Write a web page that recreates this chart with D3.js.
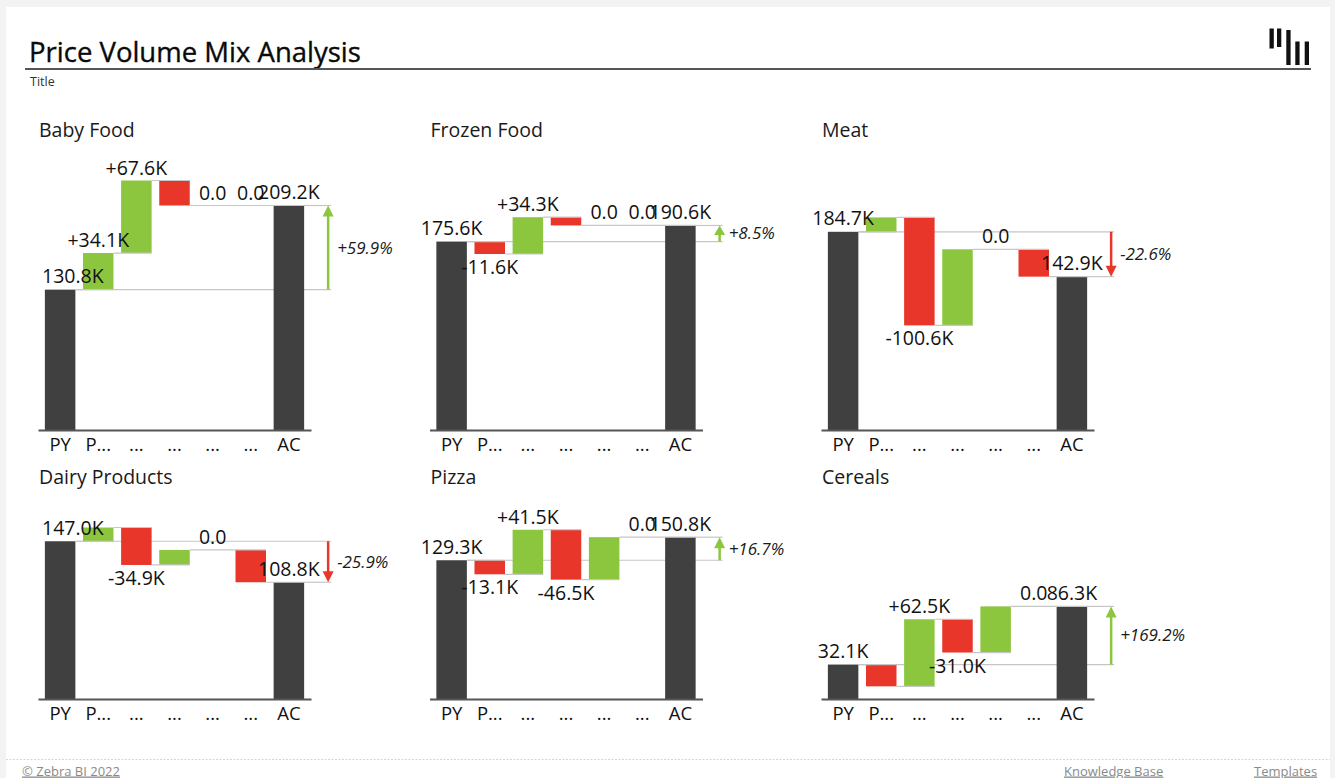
<!DOCTYPE html>
<html><head><meta charset="utf-8">
<script src="https://cdn.jsdelivr.net/npm/d3@7"></script>
<style>
body{margin:0;background:#f3f3f3;font-family:"Open Sans",sans-serif;}
svg{display:block}
</style></head><body>
<svg id="chart" width="1335" height="778"></svg>
<script>
// ---------- data ----------
const chartTitle = "Price Volume Mix Analysis";
const subTitle = "Title";
const categories = ["PY", "P...", "...", "...", "...", "...", "AC"];
const panelNames = ["Baby Food", "Frozen Food", "Meat", "Dairy Products", "Pizza", "Cereals"];
const babyFood      = [130.8,  34.1,   67.6, -23.3,  0.0,   0.0, 209.2];
const frozenFood    = [175.6, -11.6,   34.3,  -7.7,  0.0,   0.0, 190.6];
const meat          = [184.7,  13.4, -100.6,  70.9,  0.0, -25.5, 142.9];
const dairyProducts = [147.0,  12.8,  -34.9,  14.0,  0.0, -30.1, 108.8];
const pizza         = [129.3, -13.1,   41.5, -46.5, 39.6,   0.0, 150.8];
const cereals       = [ 32.1, -20.3,   62.5, -31.0, 43.0,   0.0,  86.3];
const variancePct   = [59.9, 8.5, -22.6, -25.9, 16.7, 169.2];
const labelShown = [
  [1, 1, 1, 0, 1, 1, 1],
  [1, 1, 1, 0, 1, 1, 1],
  [1, 0, 1, 0, 1, 0, 1],
  [1, 0, 1, 0, 1, 0, 1],
  [1, 1, 1, 1, 0, 1, 1],
  [1, 0, 1, 1, 0, 1, 1]
];
const footerLeft = "© Zebra BI 2022";
const footerLinks = ["Knowledge Base", "Templates"];

const seriesList = [babyFood, frozenFood, meat, dairyProducts, pizza, cereals];

// ---------- layout ----------
const colX = [0, 391.5, 783];
const rowBase = [430, 699];
const rowTitle = [136.7, 483.5];
const yMax = 232.5, plotH = 249.5;
const C = {total: "#404040", pos: "#8cc63e", neg: "#e8372a", grid: "#c6c6c6", text: "#111"};

const svg = d3.select("#chart");

// card
svg.append("rect").attr("x", 6).attr("y", 7).attr("width", 1324).attr("height", 771)
  .attr("fill", "#fff");

// header
svg.append("text").attr("x", 29).attr("y", 61.5).attr("font-size", 27.5).attr("fill", "#0a0a0a")
  .attr("stroke", "#0a0a0a").attr("stroke-width", 0.35)
  .text(chartTitle);
svg.append("line").attr("x1", 25).attr("x2", 1311).attr("y1", 69).attr("y2", 69)
  .attr("stroke", "#555").attr("stroke-width", 2);
svg.append("text").attr("x", 30).attr("y", 85.5).attr("font-size", 12.5).attr("fill", "#333")
  .text(subTitle);

// logo
const logo = [[1269.5, 28.5, 48.5], [1277, 28.5, 47], [1286.3, 30, 65], [1295.3, 41.5, 65], [1304.7, 41.5, 65]];
svg.append("g").selectAll("rect").data(logo).join("rect")
  .attr("x", d => d[0]).attr("y", d => d[1]).attr("width", 4.3).attr("height", d => d[2] - d[1])
  .attr("fill", "#111");

// footer
svg.append("line").attr("x1", 6).attr("x2", 1330).attr("y1", 759.5).attr("y2", 759.5)
  .attr("stroke", "#d6d6d6").attr("stroke-dasharray", "2,1.5");
svg.append("text").attr("x", 22).attr("y", 775.5).attr("font-size", 13).attr("fill", "#8a8a8a")
  .attr("text-decoration", "underline").text(footerLeft);
svg.append("text").attr("x", 1064).attr("y", 775.5).attr("font-size", 13).attr("fill", "#8a8a8a")
  .attr("text-decoration", "underline").text(footerLinks[0]);
svg.append("text").attr("x", 1254).attr("y", 775.5).attr("font-size", 13).attr("fill", "#8a8a8a")
  .attr("text-decoration", "underline").text(footerLinks[1]);

function fmtTotal(v) { return v.toFixed(1) + "K"; }
function fmtDelta(v) { return v === 0 ? "0.0" : (v > 0 ? "+" : "-") + Math.abs(v).toFixed(1) + "K"; }

seriesList.forEach((vals, p) => {
  const col = p % 3, row = Math.floor(p / 3);
  const off = colX[col], base = rowBase[row];
  const g = svg.append("g");

  g.append("text").attr("x", 39 + off).attr("y", rowTitle[row]).attr("font-size", 19.5)
    .attr("fill", "#1a1a1a").text(panelNames[p]);

  const x = d3.scaleBand().domain(d3.range(categories.length))
    .range([38 + off, 311 + off]).paddingInner(0.2).paddingOuter(0.18);
  const bw = x.bandwidth();
  const y = d3.scaleLinear().domain([0, yMax]).range([base, base - plotH]);

  // waterfall steps
  let run = 0;
  const steps = vals.map((v, i) => {
    let s, e, type;
    if (i === 0 || i === vals.length - 1) { s = 0; e = v; type = "total"; }
    else { s = run; e = run + v; type = v >= 0 ? "pos" : "neg"; }
    run = e;
    return {i, v, s, e, type};
  });

  const py = vals[0], ac = vals[vals.length - 1];
  const ax = x(vals.length - 1) + bw + 24;

  // reference lines (behind bars)
  g.append("line").attr("x1", x(0) + bw).attr("x2", ax + 3)
    .attr("y1", y(py)).attr("y2", y(py)).attr("stroke", C.grid).attr("stroke-width", 1.2);
  g.append("line").attr("x1", x(vals.length - 1) + bw).attr("x2", ax + 3)
    .attr("y1", y(ac)).attr("y2", y(ac)).attr("stroke", C.grid).attr("stroke-width", 1.2);

  // bars
  g.selectAll("rect.bar").data(steps).join("rect").attr("class", "bar")
    .attr("x", d => x(d.i)).attr("width", bw)
    .attr("y", d => y(Math.max(d.s, d.e)))
    .attr("height", d => Math.abs(y(d.s) - y(d.e)))
    .attr("fill", d => C[d.type]);

  // connectors
  g.selectAll("line.conn").data(steps.slice(0, -1)).join("line").attr("class", "conn")
    .attr("x1", d => x(d.i) + bw).attr("x2", d => x(d.i + 1) + bw)
    .attr("y1", d => y(d.e)).attr("y2", d => y(d.e))
    .attr("stroke", C.grid).attr("stroke-width", 1.2);

  // axis
  const axis = d3.axisBottom(x).tickSize(0).tickSizeOuter(0).tickPadding(8)
    .tickFormat(i => categories[i]);
  const ag = g.append("g").attr("transform", `translate(0,${base})`).call(axis);
  ag.select(".domain").attr("stroke", "#555").attr("stroke-width", 2);
  ag.selectAll("text").attr("font-size", 18.5).attr("fill", "#111")
    .attr("font-family", "Open Sans, sans-serif");

  // value labels
  steps.forEach(d => {
    if (!labelShown[p][d.i]) return;
    const cx = x(d.i) + bw / 2;
    let ty, txt;
    if (d.type === "total") { ty = y(d.e) - 6.5; txt = fmtTotal(d.v); }
    else if (d.v >= 0) { ty = y(d.e) - 6; txt = fmtDelta(d.v); }
    else { ty = y(d.e) + 20; txt = fmtDelta(d.v); }
    const t = g.append("text").attr("x", cx).attr("y", ty).attr("text-anchor", "middle")
      .attr("font-size", 19.5).attr("fill", C.text).text(txt);
    const w = t.node().getComputedTextLength();
    if (cx - w / 2 < 42) t.attr("x", 42 + w / 2);
  });

  // variance arrow
  const up = ac >= py;
  const colr = up ? C.pos : C.neg;
  const y0 = y(py), y1 = y(ac);
  const len = Math.abs(y1 - y0);
  const hh = Math.min(11, len * 0.6), hw = 5.5;
  const dir = up ? 1 : -1;
  g.append("line").attr("x1", ax).attr("x2", ax).attr("y1", y0).attr("y2", y1 + dir * hh * 0.8)
    .attr("stroke", colr).attr("stroke-width", 2.5);
  g.append("path")
    .attr("d", `M${ax},${y1} L${ax - hw},${y1 + dir * hh} L${ax + hw},${y1 + dir * hh} Z`)
    .attr("fill", colr);
  const pct = variancePct[p];
  g.append("text").attr("x", ax + 9).attr("y", (y0 + y1) / 2).attr("dy", "0.35em")
    .attr("font-size", 17).attr("font-style", "italic").attr("fill", "#1a1a1a")
    .text((pct >= 0 ? "+" : "") + pct.toFixed(1) + "%");
});
</script>
</body></html>
